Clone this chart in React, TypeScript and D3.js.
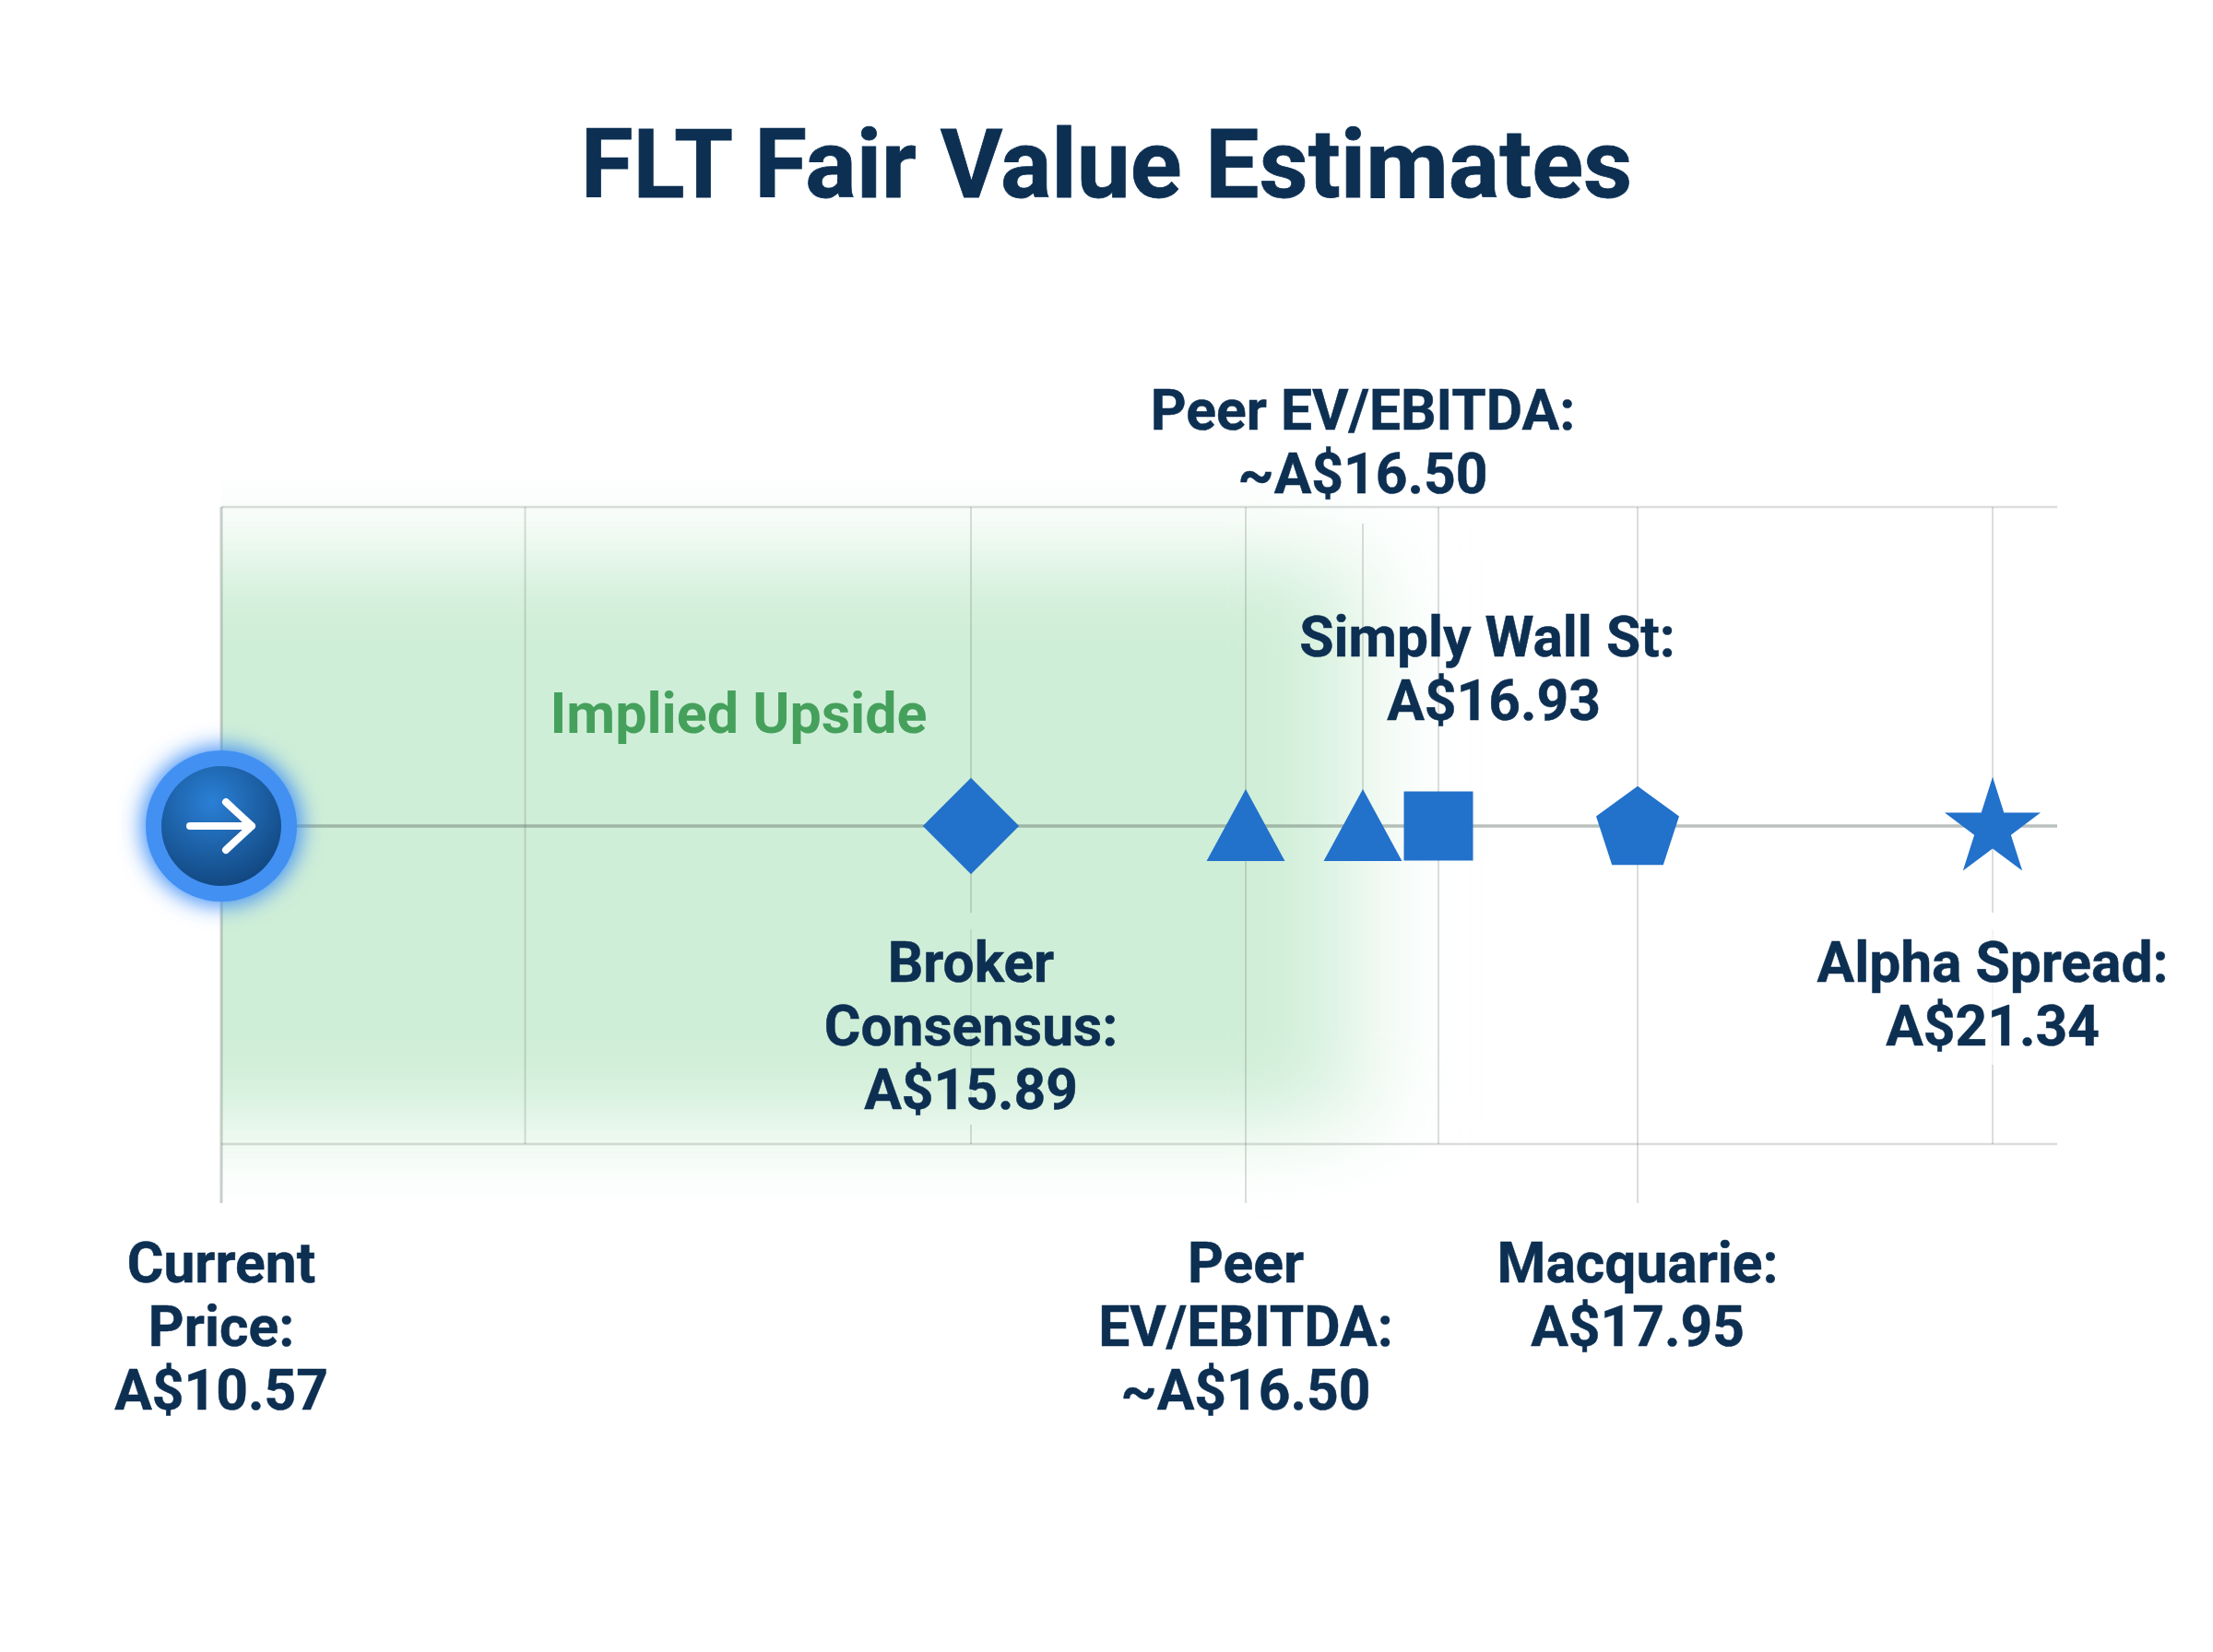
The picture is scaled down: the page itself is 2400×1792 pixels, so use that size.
import * as d3 from 'd3';

const estimateIds = ['current', 'broker', 'peerLow', 'peerHigh', 'simply', 'macquarie', 'alpha'];
const estimateNames = [
  ['Current', 'Price:'],
  ['Broker', 'Consensus:'],
  ['Peer', 'EV/EBITDA:'],
  ['Peer EV/EBITDA:'],
  ['Simply Wall St:'],
  ['Macquarie:'],
  ['Alpha Spread:'],
];
const estimateValues = [10.57, 15.89, 16.5, 16.5, 16.93, 17.95, 21.34];
const approxIds = ['peerLow', 'peerHigh'];

const title = 'FLT Fair Value Estimates';
const bandLabel = 'Implied Upside';

// the axis in the picture is not proportional to price, so each estimate gets its own stop
const stopIds = ['current', 'blank', 'broker', 'peerLow', 'peerHigh', 'simply', 'macquarie', 'alpha'];
const stopX = [240, 569.5, 1053, 1351, 1478, 1560, 1776, 2161];

const width = 2400;
const height = 1792;
const top = 550;
const mid = 896;
const bottom = 1241;
const tickEnd = 1305;
const right = 2231;
const lineGap = 69;

const navy = '#0c2f52';
const blue = '#2271cb';
const rule = '#5a6b5f';

const x = d3.scaleOrdinal<string, number>().domain(stopIds).range(stopX);

// dx moves the whole label, priceDx only its last line
const labelPlace: Record<string, { y: number; dx?: number; priceDx?: number }> = {
  current: { y: 1390.5 },
  broker: { y: 1065 },
  peerLow: { y: 1390.5 },
  peerHigh: { y: 466 },
  simply: { y: 711.5, dx: 53, priceDx: 7 },
  macquarie: { y: 1390.5 },
  alpha: { y: 1065 },
};

// the lines fade out behind the Broker and Alpha Spread labels
const gridLines = [
  { id: 'blank', y1: top, y2: bottom },
  { id: 'broker', y1: top, y2: 990 },
  { id: 'broker', y1: 1008, y2: 1195, alpha: 0.6 },
  { id: 'broker', y1: 1220, y2: bottom },
  { id: 'peerLow', y1: top, y2: tickEnd },
  { id: 'peerHigh', y1: 568, y2: mid },
  { id: 'simply', y1: top, y2: bottom },
  { id: 'macquarie', y1: top, y2: tickEnd },
  { id: 'alpha', y1: top, y2: 990 },
  { id: 'alpha', y1: 1008, y2: 1155, alpha: 0.3 },
  { id: 'alpha', y1: 1155, y2: bottom },
];

const square = (size: number) => d3.symbol().type(d3.symbolSquare).size(size)() ?? '';
const triangle = d3.symbol().type(d3.symbolTriangle).size(3120)() ?? '';
const star = d3.symbol().type(d3.symbolStar).size(3360)() ?? '';
const pentagon =
  d3
    .lineRadial<number>()
    .angle((d) => (d * 2 * Math.PI) / 5)
    .radius(47.3)
    .curve(d3.curveLinearClosed)(d3.range(5)) ?? '';

const markers = [
  { id: 'broker', d: square(5450), tf: (px: number) => `translate(${px},${mid}) rotate(45)` },
  { id: 'peerLow', d: triangle, tf: (px: number) => `translate(${px},908) scale(1,1.06)` },
  { id: 'peerHigh', d: triangle, tf: (px: number) => `translate(${px},908) scale(1,1.06)` },
  { id: 'simply', d: square(5625), tf: (px: number) => `translate(${px},${mid})` },
  { id: 'macquarie', d: pentagon, tf: (px: number) => `translate(${px},900)` },
  { id: 'alpha', d: star, tf: (px: number) => `translate(${px},899) scale(1,1.03)` },
];

export default function App() {
  const cx = x('current');
  return (
    <svg
      width={width}
      height={height}
      viewBox={`0 0 ${width} ${height}`}
      style={{ position: 'absolute', left: 0, top: 0, background: '#fff', fontFamily: 'Roboto', fontWeight: 700 }}
    >
      <defs>
        <filter id="bandBlur" x="-20%" y="-40%" width="140%" height="180%">
          <feGaussianBlur stdDeviation="58 46" />
        </filter>
        <filter id="glow" x="-50%" y="-50%" width="200%" height="200%">
          <feGaussianBlur stdDeviation="12" />
        </filter>
        <clipPath id="bandClip">
          <rect x={cx} y={0} width={width} height={height} />
        </clipPath>
        <radialGradient id="knob" cx="0.42" cy="0.3" r="0.8">
          <stop offset="0" stopColor="#2a80d6" />
          <stop offset="1" stopColor="#0f4177" />
        </radialGradient>
      </defs>

      <text x={1200} y={214} textAnchor="middle" fontSize={103.5} fill={navy} stroke={navy} strokeWidth={0.8}>
        {title}
      </text>

      <g clipPath="url(#bandClip)">
        <rect x={40} y={602} width={1428} height={618} fill="#cfeed7" filter="url(#bandBlur)" />
      </g>

      <line x1={cx} x2={right} y1={top} y2={top} stroke={rule} strokeOpacity={0.22} strokeWidth={2.5} />
      <line x1={cx} x2={right} y1={bottom} y2={bottom} stroke={rule} strokeOpacity={0.22} strokeWidth={2.5} />
      <line x1={cx} x2={cx} y1={top} y2={tickEnd} stroke={rule} strokeOpacity={0.32} strokeWidth={3} />
      {gridLines.map((g, i) => (
        <line
          key={i}
          x1={x(g.id)}
          x2={x(g.id)}
          y1={g.y1}
          y2={g.y2}
          stroke={rule}
          strokeOpacity={0.22 * (g.alpha ?? 1)}
          strokeWidth={2}
        />
      ))}
      <line x1={cx} x2={right} y1={mid} y2={mid} stroke={rule} strokeOpacity={0.42} strokeWidth={3.5} />

      <text x={801} y={795} textAnchor="middle" fontSize={61} fill="#45a05c">
        {bandLabel}
      </text>

      {markers.map((m) => (
        <path key={m.id} d={m.d} transform={m.tf(x(m.id))} fill={blue} />
      ))}

      <circle cx={cx} cy={mid} r={86} fill="#3b8cf5" filter="url(#glow)" />
      <circle cx={cx} cy={mid} r={82} fill="#4390f3" />
      <circle cx={cx} cy={mid} r={65} fill="url(#knob)" />
      <path
        d={`M${cx - 34} ${mid} H${cx + 33} M${cx + 5} ${mid - 26} L${cx + 33} ${mid} L${cx + 5} ${mid + 26}`}
        fill="none"
        stroke="#fff"
        strokeWidth={8}
        strokeLinecap="round"
        strokeLinejoin="round"
      />

      {estimateIds.map((id, i) => {
        const place = labelPlace[id];
        const price = `${approxIds.includes(id) ? '~' : ''}A$${estimateValues[i].toFixed(2)}`;
        const lines = [...estimateNames[i], price];
        const lx = x(id) + (place.dx ?? 0);
        return (
          <text key={id} x={lx} textAnchor="middle" fontSize={60.5} fill={navy} stroke={navy} strokeWidth={0.5}>
            {lines.map((line, j) => (
              <tspan
                key={j}
                x={lx + (j === lines.length - 1 ? (place.priceDx ?? 0) : 0)}
                y={place.y + j * lineGap}
              >
                {line}
              </tspan>
            ))}
          </text>
        );
      })}
    </svg>
  );
}
